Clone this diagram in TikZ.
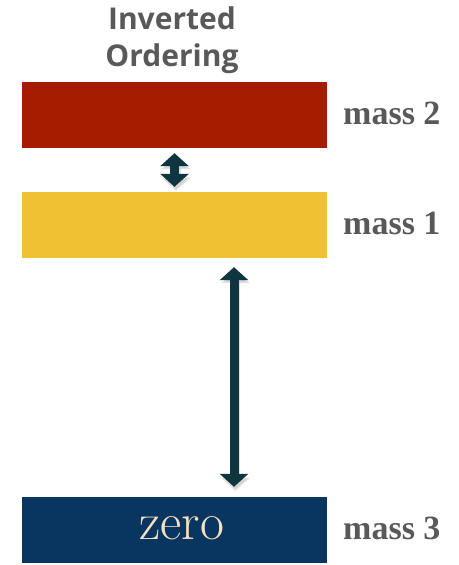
\documentclass[tikz,border=0pt]{standalone}
\usepackage{fontspec}
\newfontfamily\titlefont{Open Sans}
\newfontfamily\massfont{Liberation Serif}
\usetikzlibrary{arrows.meta}
\definecolor{cred}{HTML}{A51C00}
\definecolor{cyellow}{HTML}{F0C133}
\definecolor{cnavy}{HTML}{083660}
\definecolor{carrow}{HTML}{0F3640}
\definecolor{cgray}{HTML}{595959}
\definecolor{ccream}{HTML}{F6E0C4}
\tikzset{
  level/.style={minimum width=305pt, minimum height=66pt, inner sep=0pt, draw=none},
  masslabel/.style={anchor=west, text=cgray, font=\massfont\bfseries\fontsize{34}{34}\selectfont, inner sep=0pt},
  bigarrow/.style={draw=carrow, line width=9pt, {Triangle[width=28pt,length=13pt]}-{Triangle[width=28pt,length=13pt]}},
  arrowshadow/.style={draw=black!25, line width=9pt, {Triangle[width=28pt,length=13pt]}-{Triangle[width=28pt,length=13pt]}}
}
\begin{document}
\begin{tikzpicture}[x=1pt,y=-1pt]
\useasboundingbox (0,0) rectangle (458,565);
\node[text=cgray, font=\titlefont\bfseries\fontsize{30}{37}\selectfont, align=center] (title) at (172,40) {Inverted\\Ordering};
\node[level, fill=cred] (m2) at (174.5,115) {};
\node[level, fill=cyellow] (m1) at (174.5,225) {};
\node[level, fill=cnavy] (m3) at (174.5,530) {};
\node[text=ccream, font=\fontsize{52}{52}\selectfont] (zero) at (182,528) {zero};
\node[masslabel] (l2) at (343,113) {mass 2};
\node[masslabel] (l1) at (343,223) {mass 1};
\node[masslabel] (l3) at (343,528) {mass 3};
\coordinate (a1) at ([xshift=59.5pt]m1.south);
\coordinate (a3) at ([xshift=59.5pt]m3.north);
\draw[arrowshadow, shorten <=6pt, shorten >=3pt, transform canvas={xshift=1.5pt,yshift=-2pt}, opacity=0.5] (m2.south) -- (m1.north);
\draw[arrowshadow, shorten <=10pt, shorten >=8pt, transform canvas={xshift=1.5pt,yshift=-2pt}, opacity=0.5] (a1) -- (a3);
\draw[bigarrow, shorten <=5pt, shorten >=5pt] (m2.south) -- (m1.north);
\draw[bigarrow, shorten <=9pt, shorten >=10pt] (a1) -- (a3);
\end{tikzpicture}
\end{document}
